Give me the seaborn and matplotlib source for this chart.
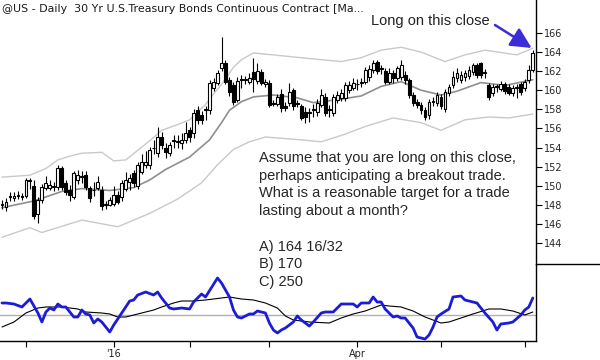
import numpy as np
import pandas as pd
import matplotlib
matplotlib.use("Agg")
import matplotlib.pyplot as plt
from matplotlib.lines import Line2D
import seaborn as sns

# =============================================================================
# DATA
# =============================================================================

START_DATE = "2015-11-20"
END_DATE = "2016-06-03"
HOLIDAYS = ["2015-11-26", "2015-12-25", "2016-01-01", "2016-01-18",
            "2016-02-15", "2016-03-25", "2016-05-30"]

opens = [148.0, 147.8, 148.8, 148.7, 148.9, 148.9, 148.9, 150.5, 150.0, 147.0,
         148.5, 149.8, 149.8, 149.9, 149.9, 151.9, 150.3, 149.6, 148.8, 150.6,
         150.9, 151.1, 149.8, 149.5, 149.8, 149.5, 148.0, 148.0, 148.1, 149.0,
         148.8, 149.7, 150.4, 151.3, 150.0, 151.4, 152.2, 152.2, 153.9, 153.4,
         155.1, 154.0, 153.4, 154.7, 154.6, 154.5, 154.8, 155.8, 155.5, 157.9,
         157.4, 157.9, 157.9, 160.2, 160.8, 162.3, 162.8, 161.1, 160.5, 159.0,
         161.1, 161.1, 160.9, 161.9, 161.0, 161.9, 160.6, 160.8, 158.6, 158.6,
         159.6, 158.4, 158.7, 160.0, 158.6, 158.3, 157.7, 157.6, 157.9, 157.7,
         158.5, 159.3, 157.9, 157.6, 159.0, 159.2, 159.2, 160.0, 160.2, 160.6,
         160.8, 160.9, 161.4, 162.1, 163.0, 162.2, 162.0, 160.9, 161.8, 161.3,
         161.4, 161.6, 161.1, 159.5, 158.8, 158.5, 157.9, 157.4, 158.8, 158.7,
         159.3, 158.0, 159.7, 160.5, 161.3, 161.1, 161.4, 161.5, 161.9, 162.6,
         162.8, 161.8, 160.5, 159.7, 160.3, 160.1, 160.6, 160.3, 159.7, 160.2,
         160.6, 160.2, 161.1, 162.1]
highs = [148.5, 148.7, 149.3, 149.3, 149.4, 149.2, 150.8, 150.8, 150.6, 148.8,
         150.2, 151.0, 150.6, 150.4, 152.2, 152.1, 150.6, 150.1, 151.5, 151.6,
         151.5, 151.5, 150.0, 150.4, 151.0, 150.0, 148.4, 148.8, 150.0, 149.4,
         150.6, 151.4, 151.2, 151.6, 152.5, 153.3, 153.6, 154.1, 154.8, 156.2,
         155.6, 154.5, 154.6, 155.3, 155.3, 155.5, 156.7, 156.2, 158.0, 158.3,
         157.8, 158.3, 161.1, 161.3, 162.1, 165.6, 163.2, 161.4, 160.9, 161.4,
         161.6, 161.5, 161.8, 163.4, 162.9, 162.2, 161.2, 161.1, 159.0, 159.6,
         160.1, 158.8, 160.8, 160.2, 159.0, 158.6, 158.2, 158.1, 158.6, 159.1,
         160.1, 159.7, 158.5, 159.6, 159.9, 160.1, 160.9, 161.0, 161.3, 161.2,
         161.3, 162.4, 162.6, 163.2, 163.2, 162.6, 162.3, 162.3, 162.1, 162.5,
         163.2, 162.0, 161.3, 159.8, 159.1, 158.8, 158.2, 159.1, 159.3, 159.8,
         159.6, 160.1, 160.7, 162.0, 162.3, 162.0, 162.1, 162.5, 162.9, 162.9,
         163.0, 162.2, 160.8, 160.6, 160.7, 161.0, 160.9, 160.6, 160.5, 160.7,
         160.9, 161.2, 162.6, 164.2]
lows = [147.6, 147.3, 148.4, 148.4, 148.6, 148.5, 148.7, 149.7, 146.5, 146.1,
        148.2, 149.5, 149.5, 149.4, 149.6, 149.6, 149.0, 148.4, 148.6, 150.2,
        150.3, 149.6, 148.3, 148.9, 149.5, 147.5, 147.6, 147.9, 147.9, 148.1,
        148.4, 149.4, 149.5, 149.9, 149.7, 151.2, 151.9, 151.8, 153.3, 153.0,
        153.8, 152.9, 153.1, 154.0, 154.0, 153.8, 154.5, 154.6, 155.0, 156.5,
        156.5, 156.9, 157.5, 159.9, 160.5, 162.0, 160.6, 159.4, 158.5, 158.8,
        160.2, 160.7, 160.6, 159.8, 160.6, 160.5, 160.3, 158.2, 158.3, 158.3,
        157.7, 157.8, 158.4, 157.9, 158.2, 156.9, 156.6, 156.7, 157.2, 157.3,
        158.2, 157.3, 157.2, 157.3, 158.7, 158.9, 158.9, 159.7, 160.0, 160.0,
        160.3, 160.6, 161.0, 161.8, 161.7, 161.7, 160.6, 160.6, 160.8, 161.0,
        161.1, 160.6, 159.2, 158.3, 158.1, 157.5, 156.9, 157.0, 158.3, 158.4,
        158.0, 157.7, 159.4, 160.2, 160.9, 160.8, 161.0, 161.2, 161.6, 161.3,
        161.3, 161.3, 159.0, 159.4, 159.8, 159.9, 159.6, 159.5, 159.4, 159.2,
        159.5, 159.9, 160.8, 161.9]
closes = [148.1, 148.3, 148.9, 148.9, 149.0, 148.8, 150.6, 150.6, 146.8, 148.5,
          149.9, 150.3, 150.1, 150.0, 151.9, 149.9, 149.3, 149.0, 151.3, 151.1,
          151.0, 149.9, 148.7, 149.6, 150.4, 147.9, 148.1, 148.5, 149.0, 148.3,
          150.3, 150.6, 150.8, 150.3, 152.2, 152.5, 152.5, 153.7, 154.0, 155.1,
          154.3, 153.5, 154.3, 154.8, 154.6, 154.8, 155.5, 155.1, 157.6, 156.9,
          156.9, 158.0, 160.8, 160.9, 161.8, 162.9, 160.9, 159.8, 158.8, 161.0,
          161.2, 161.2, 161.3, 161.2, 162.0, 160.8, 160.9, 158.5, 158.7, 159.3,
          158.1, 158.1, 159.8, 158.3, 158.7, 157.1, 157.2, 157.7, 158.0, 158.7,
          159.5, 157.6, 158.0, 159.3, 159.5, 159.7, 160.5, 160.5, 160.8, 160.7,
          160.9, 162.1, 162.2, 162.9, 162.0, 162.3, 160.9, 161.8, 161.3, 162.3,
          162.6, 161.1, 159.5, 158.7, 158.5, 157.9, 157.2, 158.8, 158.9, 159.5,
          158.3, 159.8, 160.3, 161.4, 161.8, 161.6, 161.8, 162.1, 162.6, 161.6,
          161.6, 161.9, 159.3, 160.3, 160.4, 160.6, 159.9, 159.7, 160.2, 160.3,
          159.8, 160.9, 162.1, 163.9]

# channel lines: (bar index, price)
upper_idx = [0, 7, 11, 14, 17, 20, 25, 28, 31, 34, 37, 40, 44, 47, 51, 53, 55,
             58, 60, 63, 68, 75, 80, 85, 90, 95, 100, 105, 111, 116, 121, 129,
             133]
upper_val = [150.9, 151.1, 151.8, 152.7, 153.1, 153.4, 153.5, 152.6, 152.7,
             153.7, 154.7, 155.8, 156.4, 156.9, 158.5, 159.6, 160.6, 162.4,
             163.2, 163.9, 163.7, 163.4, 163.2, 163.0, 163.4, 164.2, 164.5,
             164.0, 163.0, 163.7, 164.2, 163.7, 164.4]
mid_idx = [0, 8, 15, 20, 27, 33, 37, 41, 47, 52, 55, 57, 60, 63, 68, 74, 78,
           84, 90, 95, 100, 105, 110, 114, 120, 126, 133]
mid_val = [147.7, 148.4, 149.4, 149.7, 149.5, 149.8, 150.6, 151.7, 153.0, 154.8,
           156.6, 157.9, 158.8, 159.3, 159.5, 159.2, 158.7, 159.0, 159.4, 160.4,
           160.9, 160.0, 159.5, 159.9, 160.8, 160.5, 161.1]
lower_idx = [0, 7, 10, 20, 29, 37, 44, 50, 54, 58, 62, 66, 75, 80, 86, 91, 98,
             105, 110, 116, 122, 127, 133]
lower_val = [144.6, 145.6, 145.1, 146.4, 145.7, 147.1, 148.6, 150.3, 152.2,
             153.8, 154.6, 155.1, 154.8, 154.6, 155.4, 156.2, 157.1, 156.6,
             155.8, 156.9, 157.2, 157.1, 157.5]

# oscillator (fast = blue, slow = black)
fast_idx = [0, 1, 3, 5, 7, 9, 10, 11, 12, 13, 14, 15, 16, 18, 19, 20, 21, 22,
            23, 24, 25, 27, 28, 30, 32, 33, 34, 36, 38, 39, 40, 42, 43, 45, 47,
            48, 50, 51, 54, 55, 57, 58, 59, 60, 62, 63, 64, 66, 67, 68, 69, 70,
            71, 73, 74, 75, 76, 77, 78, 80, 81, 83, 85, 88, 89, 90, 92, 93, 94,
            95, 96, 98, 99, 100, 101, 103, 104, 106, 107, 108, 109, 110, 112,
            113, 115, 116, 118, 119, 121, 123, 124, 125, 127, 128, 130, 131,
            132, 133]
fast_val = [12, 12, 11, 8, 16, 2, -7, 3, 7, 5, 11, 8, 8, -2, -2, 5, 1, 0,
            -8, -4, -7, -17, -10, 2, 14, 15, 20, 23, 20, 23, 17, 7, 6, 7, 6,
            13, 21, 18, 37, 32, 18, 5, -2, -3, 1, 1, 4, 2, -8, -15, -18, -15,
            -13, -7, -1, -5, -8, -11, -7, 2, 3, 3, 11, 11, 8, 12, 12, 18, 13,
            13, 6, -2, -1, -3, -3, -13, -22, -24, -20, -12, -2, 1, 6,
            18, 19, 15, 13, 12, 2, -7, -15, -9, -8, -7, 0, 5,
            8, 17]
slow_idx = [0, 3, 6, 9, 11, 15, 19, 21, 25, 27, 29, 31, 35, 38, 40, 43, 45,
            48, 51, 55, 57, 60, 63, 66, 69, 71, 73, 75, 77, 82, 85, 88, 91, 95,
            97, 100, 103, 106, 110, 112, 115, 118, 122, 125, 128, 131, 133]
slow_val = [-12, -7, 2, 7, 8, 8, 6, 3, 2, 1, -2, -2, 2, 5, 8, 12, 14, 14, 15,
            17, 18, 16, 15, 12, 7, -1, -5, -6, -7, -8, -3, 1, 4, 10, 9, 8, 4,
            -2, -8, -7, -3, 1, 6, 6, 4, 0, 3]

QUESTION = ["Assume that you are long on this close,",
            "perhaps anticipating a breakout trade.",
            "What is a reasonable target for a trade",
            "lasting about a month?",
            "",
            "A) 164 16/32",
            "B) 170",
            "C) 250"]
TITLE = "@US - Daily  30 Yr U.S.Treasury Bonds Continuous Contract [Ma..."
YTICKS = list(range(144, 167, 2))

# =============================================================================
# PLOT
# =============================================================================

sns.set_style("white")
plt.rcParams['font.family'] = ['DejaVu Sans']

W, H = 600, 360
fig = plt.figure(figsize=(W / 100, H / 100), dpi=100)
ax = fig.add_axes([0, 1 - 264 / H, 536 / W, 264 / H])
ax_osc = fig.add_axes([0, 1 - 341 / H, 536 / W, 77 / H])

dates = pd.bdate_range(START_DATE, END_DATE, freq='C', holidays=HOLIDAYS)
n = len(closes)
x = np.arange(n)
o = np.array(opens)
c = np.array(closes)
up = c >= o
body_lo = np.minimum(o, c)
body_h = np.maximum(np.abs(c - o), 0.06)

# --- price panel ---
sns.lineplot(x=upper_idx, y=upper_val, ax=ax, color='#c9c9c9', lw=1.0,
             estimator=None, sort=False)
sns.lineplot(x=lower_idx, y=lower_val, ax=ax, color='#c9c9c9', lw=1.0,
             estimator=None, sort=False)
sns.lineplot(x=mid_idx, y=mid_val, ax=ax, color='#8f8f8f', lw=1.2,
             estimator=None, sort=False)

ax.vlines(x, lows, highs, color='black', lw=0.8, zorder=3)
ax.bar(x[up], body_h[up], bottom=body_lo[up], width=0.72, color='white',
       edgecolor='black', lw=0.8, zorder=4)
ax.bar(x[~up], body_h[~up], bottom=body_lo[~up], width=0.72, color='black',
       edgecolor='black', lw=0.8, zorder=4)

ax.set_xlim(-0.5, 133.8)
ax.set_ylim(141.8, 169.45)
ax.yaxis.tick_right()
ax.set_yticks(YTICKS)
ax.set_yticklabels([str(v) for v in YTICKS])
ax.tick_params(axis='y', right=True, length=4, width=0.8, color='black',
               labelsize=7, pad=1.5)
ax.set_xticks([])
for side in ['top', 'left', 'bottom']:
    ax.spines[side].set_visible(False)
ax.spines['right'].set_color('black')
ax.spines['right'].set_linewidth(1.0)
ax.set_xlabel("")
ax.set_ylabel("")

ax.annotate("", xy=(n - 1, highs[-1] + 0.15), xycoords='data',
            xytext=(495 / W, 1 - 25 / H), textcoords='figure fraction',
            arrowprops=dict(arrowstyle='-|>,head_length=0.9,head_width=0.45',
                            color='#3b2bd8', lw=1.8, mutation_scale=14,
                            shrinkA=0, shrinkB=1))

# --- oscillator panel ---
ax_osc.axhline(0, color='#b0b0b0', lw=1.0, zorder=1)
sns.lineplot(x=slow_idx, y=slow_val, ax=ax_osc, color='black', lw=0.8,
             estimator=None, sort=False)
sns.lineplot(x=fast_idx, y=fast_val, ax=ax_osc, color='#1c1cd6', lw=2.0,
             estimator=None, sort=False)
ax_osc.set_xlim(-0.5, 133.8)
ax_osc.set_ylim(-26, 51)
ax_osc.set_yticks([])

month_pos = [i for i in range(1, n) if dates[i].month != dates[i - 1].month]
month_lab = []
for i in month_pos:
    if dates[i].month == 1:
        month_lab.append("'" + dates[i].strftime('%y'))
    elif dates[i].month in (4, 7, 10):
        month_lab.append(dates[i].strftime('%b'))
    else:
        month_lab.append("")
ax_osc.set_xticks(month_pos)
ax_osc.set_xticklabels(month_lab)
ax_osc.tick_params(axis='x', bottom=True, length=4, width=0.8, color='black',
                   labelsize=7, pad=1.5)
ax_osc.patch.set_alpha(0)
for side in ['top', 'left']:
    ax_osc.spines[side].set_visible(False)
for side in ['right', 'bottom']:
    ax_osc.spines[side].set_color('black')
    ax_osc.spines[side].set_linewidth(1.0)
ax_osc.set_xlabel("")
ax_osc.set_ylabel("")

# separator in the scale area
fig.add_artist(Line2D([536 / W, 1], [1 - 264 / H, 1 - 264 / H],
                      color='black', lw=1.0))

# --- texts ---
fig.text(2 / W, 1 - 9 / H, TITLE, fontsize=7.9, color='#1a1a1a',
         ha='left', va='center')
fig.text(371 / W, 1 - 21 / H, "Long on this close", fontsize=10.5,
         family='Liberation Sans', color='#222222', ha='left', va='center')
y0 = 158
for k, line in enumerate(QUESTION):
    if line:
        fig.text(259 / W, 1 - (y0 + 17.7 * k) / H, line, fontsize=10.5,
                 family='Liberation Sans', color='#262626',
                 ha='left', va='center')

fig.savefig("out.png", dpi=100)
plt.close(fig)
